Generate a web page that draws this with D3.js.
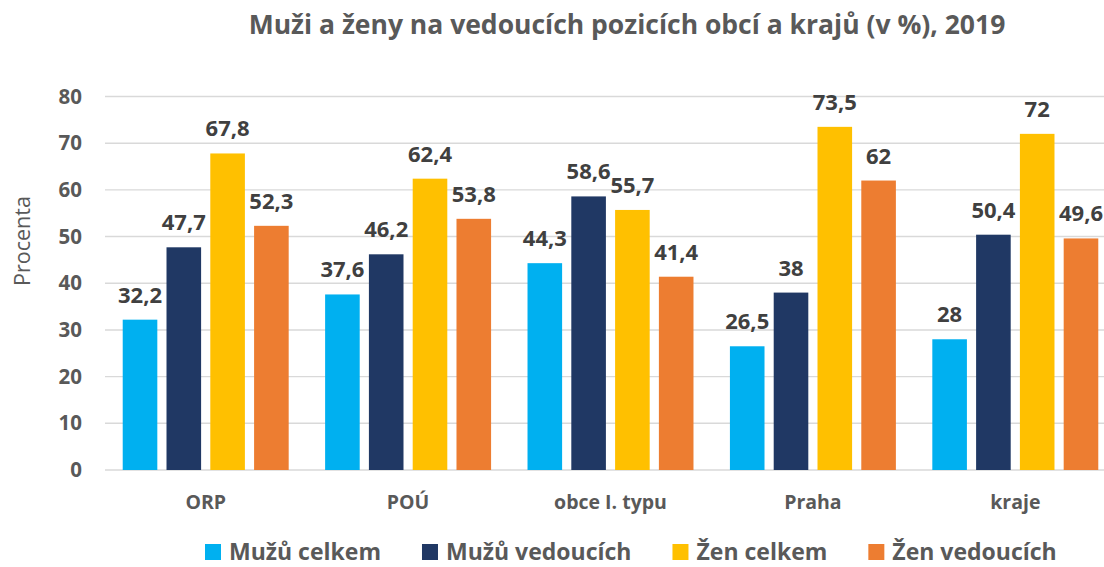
<!DOCTYPE html>
<html>
<head>
<meta charset="utf-8">
<script src="https://cdn.jsdelivr.net/npm/d3@7"></script>
<style>
  body { margin: 0; background: #fff; }
  text { font-family: "Open Sans", sans-serif; }
</style>
</head>
<body>
<div id="chart"></div>
<script>
// data
const categories = ["ORP", "POÚ", "obce I. typu", "Praha", "kraje"];
const seriesNames = ["Mužů celkem", "Mužů vedoucích", "Žen celkem", "Žen vedoucích"];
const muzuCelkem = [32.2, 37.6, 44.3, 26.5, 28];
const muzuVedoucich = [47.7, 46.2, 58.6, 38, 50.4];
const zenCelkem = [67.8, 62.4, 55.7, 73.5, 72];
const zenVedoucich = [52.3, 53.8, 41.4, 62, 49.6];
const yTicks = [0, 10, 20, 30, 40, 50, 60, 70, 80];

const seriesValues = [muzuCelkem, muzuVedoucich, zenCelkem, zenVedoucich];
const colors = ["#00B0F0", "#203864", "#FFC000", "#ED7D31"];

const width = 1104, height = 567;
const svg = d3.select("#chart").append("svg").attr("width", width).attr("height", height);

const x0 = d3.scaleBand().domain(categories).range([104.5, 1116.5]).paddingInner(0.18).paddingOuter(0.09);
const x1 = d3.scaleBand().domain(seriesNames).range([0, x0.bandwidth()]).paddingInner(0.21);
const y = d3.scaleLinear().domain([0, 80]).range([470, 96.5]);

// gridlines
svg.append("g").selectAll("line").data(yTicks).join("line")
  .attr("x1", 105).attr("x2", width)
  .attr("y1", d => y(d)).attr("y2", d => y(d))
  .attr("stroke", "#d9d9d9").attr("stroke-width", 1.4);

// y axis labels
const yAxis = svg.append("g").attr("transform", "translate(82,0)")
  .call(d3.axisLeft(y).tickValues(yTicks).tickSize(0).tickPadding(0));
yAxis.select(".domain").remove();
yAxis.selectAll("text")
  .attr("font-family", "Open Sans").attr("font-weight", "bold")
  .attr("font-size", 20.5).attr("fill", "#595959");

svg.append("text")
  .attr("transform", "translate(30,241) rotate(-90)")
  .attr("text-anchor", "middle")
  .attr("font-size", 21.5).attr("fill", "#595959")
  .text("Procenta");

// x axis labels
const xAxis = svg.append("g").attr("transform", "translate(0,470)")
  .call(d3.axisBottom(x0).tickSize(0).tickPadding(25));
xAxis.select(".domain").remove();
xAxis.selectAll("text")
  .attr("font-family", "Open Sans").attr("font-weight", "bold")
  .attr("font-size", 19.5).attr("fill", "#595959");

// bars
const rows = categories.map((c, i) => ({
  cat: c,
  vals: seriesNames.map((s, j) => ({ s, v: seriesValues[j][i], color: colors[j] }))
}));

const groups = svg.append("g").selectAll("g").data(rows).join("g")
  .attr("transform", d => `translate(${x0(d.cat)},0)`);

groups.selectAll("rect").data(d => d.vals).join("rect")
  .attr("x", d => x1(d.s))
  .attr("width", x1.bandwidth())
  .attr("y", d => y(d.v))
  .attr("height", d => y(0) - y(d.v))
  .attr("fill", d => d.color);

groups.selectAll("text").data(d => d.vals).join("text")
  .attr("x", d => x1(d.s) + x1.bandwidth() / 2)
  .attr("y", d => y(d.v) - 17)
  .attr("text-anchor", "middle")
  .attr("font-weight", "bold").attr("font-size", 22).attr("fill", "#404040")
  .text(d => String(d.v).replace(".", ","));

// title
svg.append("text")
  .attr("x", 627).attr("y", 34)
  .attr("text-anchor", "middle")
  .attr("font-weight", "bold").attr("font-size", 26.5).attr("fill", "#595959")
  .text("Muži a ženy na vedoucích pozicích obcí a krajů (v %), 2019");

// legend
const legend = svg.append("g");
let lx = 205;
seriesNames.forEach((s, i) => {
  const item = legend.append("g").attr("transform", `translate(${lx},0)`);
  item.append("rect").attr("x", 0).attr("y", 544).attr("width", 16).attr("height", 16).attr("fill", colors[i]);
  const t = item.append("text").attr("x", 24).attr("y", 560)
    .attr("font-weight", "bold").attr("font-size", 23).attr("fill", "#595959")
    .text(s);
  lx += 24 + t.node().getComputedTextLength() + 41;
});
</script>
</body>
</html>
